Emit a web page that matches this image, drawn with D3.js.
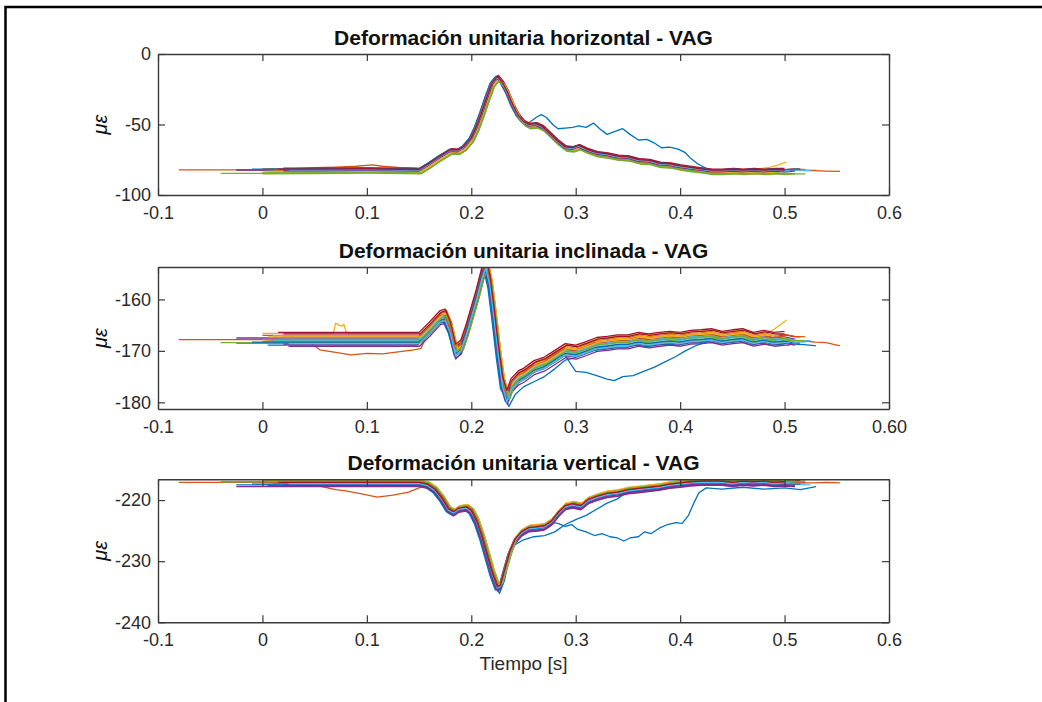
<!DOCTYPE html>
<html><head><meta charset="utf-8">
<script src="https://cdn.jsdelivr.net/npm/d3@7"></script>
<style>
body{margin:0;background:#fff}
svg{display:block}
text{font-family:"Liberation Sans",Arial,Helvetica,sans-serif}
</style>
</head><body>
<svg id="chart" width="1042" height="702"></svg>
<script>
// ---------------- DATA ----------------
const titles = ["Deformación unitaria horizontal - VAG","Deformación unitaria inclinada - VAG","Deformación unitaria vertical - VAG"];
const xLabel = "Tiempo [s]";
const yLabel = "με";
const xTicks = [-0.1,0,0.1,0.2,0.3,0.4,0.5,0.6];
const xTickLabels1 = ["-0.1","0","0.1","0.2","0.3","0.4","0.5","0.6"];
const xTickLabels2 = ["-0.1","0","0.1","0.2","0.3","0.4","0.5","0.60"];
const xTickLabels3 = ["-0.1","0","0.1","0.2","0.3","0.4","0.5","0.6"];
const xDomain = [-0.1,0.6];
const yDomain1 = [-100,0];
const yDomain2 = [-181.3,-153.7];
const yDomain3 = [-240,-216.6];
const yTicks1 = [-100,-50,0];
const yTicks2 = [-180,-170,-160];
const yTicks3 = [-240,-230,-220];
const seriesColors = ["#0072BD","#D95319","#EDB120","#7E2F8E","#77AC30","#4DBEEE","#A2142F"];

// common waveform of each panel [t, value]
const base1 = [[-0.08,-82.5],[0.0,-82.5],[0.05,-82.3],[0.1,-82],[0.15,-82.5],[0.16,-78],[0.17,-73],[0.18,-68.5],[0.187,-68.8],[0.193,-66],[0.2,-60],[0.205,-52],[0.21,-42],[0.215,-31],[0.22,-21],[0.225,-16.5],[0.23,-21],[0.235,-28],[0.24,-37],[0.245,-44],[0.25,-48.5],[0.255,-50.5],[0.262,-50],[0.268,-52],[0.275,-57],[0.282,-62],[0.29,-66.5],[0.297,-67],[0.303,-65.5],[0.31,-68],[0.32,-70.5],[0.33,-71.5],[0.34,-73],[0.35,-73.5],[0.36,-75.5],[0.37,-76],[0.38,-78],[0.39,-78.5],[0.4,-80],[0.41,-81],[0.42,-82],[0.43,-83],[0.44,-83],[0.45,-82.5],[0.46,-83],[0.47,-82.5],[0.48,-83],[0.49,-82.5],[0.5,-83],[0.51,-82.5],[0.52,-83],[0.53,-83],[0.54,-83.3],[0.553,-83.5]];
const base2 = [[-0.08,-168],[0,-168],[0.05,-168],[0.1,-168],[0.15,-168],[0.16,-166],[0.17,-163.8],[0.175,-163.5],[0.18,-166],[0.185,-170.3],[0.19,-169.5],[0.195,-166.5],[0.2,-163],[0.205,-159.5],[0.21,-155.5],[0.214,-153.3],[0.218,-157],[0.222,-163.5],[0.226,-170.5],[0.23,-176.5],[0.234,-179.3],[0.238,-177],[0.245,-175.5],[0.25,-175],[0.26,-173.5],[0.27,-172.8],[0.28,-171.5],[0.29,-170.2],[0.3,-170.5],[0.31,-169.8],[0.32,-169],[0.33,-168.8],[0.34,-168.5],[0.35,-168.5],[0.36,-168],[0.37,-168.3],[0.38,-168],[0.39,-167.8],[0.4,-168],[0.41,-167.6],[0.42,-167.5],[0.43,-167.3],[0.44,-167.8],[0.45,-167.5],[0.46,-167.3],[0.47,-168],[0.48,-167.6],[0.49,-168],[0.5,-167.8],[0.51,-168.2],[0.52,-168.3],[0.53,-168.5],[0.54,-168.6],[0.553,-169.2]];
const base3 = [[-0.08,-217.2],[0,-217.2],[0.05,-217.2],[0.1,-217.2],[0.15,-217.2],[0.158,-217.5],[0.165,-218.3],[0.172,-219.8],[0.178,-221.5],[0.183,-222],[0.188,-221.4],[0.195,-221.2],[0.2,-221.8],[0.205,-223.5],[0.21,-226],[0.215,-229],[0.22,-232],[0.225,-234.3],[0.228,-234],[0.232,-231.5],[0.237,-228.5],[0.242,-226.5],[0.248,-225.3],[0.255,-224.6],[0.262,-224.5],[0.27,-224.3],[0.277,-223.5],[0.284,-222],[0.29,-221],[0.297,-220.7],[0.305,-221],[0.312,-220],[0.32,-219.5],[0.33,-219],[0.34,-218.8],[0.35,-218.4],[0.36,-218.2],[0.37,-218],[0.38,-217.8],[0.39,-217.5],[0.4,-217.3],[0.41,-217.1],[0.42,-217],[0.43,-217],[0.44,-217],[0.45,-217.2],[0.46,-217],[0.47,-217.1],[0.48,-217],[0.49,-217.2],[0.5,-217.1],[0.51,-217.2],[0.52,-217.3],[0.53,-217.3],[0.54,-217.2],[0.553,-217.3]];

// each recorded pass: start/end time, time shift and level shift per panel
const traceStart = [-0.025,-0.08,0.0,-0.025,-0.04,0.01,0.02, 0.005,0.0,0.01,0.025,0.0,0.015,0.02, -0.01,0.01,0.005,0.02,0.0,0.025,0.015];
const traceEnd   = [0.53,0.553,0.502,0.51,0.505,0.52,0.515, 0.5,0.52,0.495,0.505,0.51,0.525,0.5, 0.515,0.5,0.49,0.51,0.52,0.505,0.5];
const traceDt    = [-0.0015,-0.0005,0.0015,0.0,0.002,-0.001,0.0005, -0.002,0.0,0.001,0.0005,0.0025,-0.0005,0.001, -0.001,-0.001,0.002,-0.0005,0.0015,0.0,0.0];
const traceDy1   = [0.5,0.3,-1.2,0.2,-2.2,0.6,0.9, 0.2,1.0,-1.6,-0.4,-1.8,0.4,1.3, 0.8,0.0,-0.9,-0.6,-2.5,0.1,0.6];
const traceDy2   = [-0.5,0.2,1.4,0.5,-0.4,0.0,0.9, -0.9,1.0,0.9,-1.1,-0.2,0.3,1.3, -0.3,0.6,0.7,-0.7,0.2,-0.6,1.6];
const traceDy3   = [-0.3,0.1,0.3,-0.6,0.2,0.0,0.4, -0.4,0.2,0.5,-0.5,0.3,-0.2,0.3, -0.2,0.0,0.4,-0.4,0.3,-0.1,0.1];

// passes that depart from the common waveform (trace index, points)
const outliers1 = [
  {trace:0, pts:[[0.255,-49],[0.262,-45],[0.267,-43],[0.272,-45],[0.278,-50],[0.283,-53],[0.29,-52.5],[0.297,-52],[0.303,-51],[0.31,-52],[0.317,-49],[0.323,-53],[0.33,-57],[0.337,-55],[0.345,-53],[0.352,-57],[0.36,-61],[0.368,-60.5],[0.375,-63],[0.382,-66.5],[0.39,-66],[0.398,-67.5],[0.405,-70],[0.41,-74],[0.417,-78],[0.425,-81]]},
  {trace:1, pts:[[0.02,-81.6],[0.05,-80.6],[0.07,-80.2],[0.09,-79.6],[0.105,-78.6],[0.115,-79.6],[0.13,-80.4],[0.148,-81]]},
  {trace:2, pts:[[0.47,-82.0],[0.485,-80.5],[0.495,-78.5],[0.502,-76.5]]}
];
const outliers2 = [
  {trace:0, pts:[[0.285,-171],[0.29,-170.8],[0.295,-172.5],[0.3,-174],[0.31,-174.2],[0.32,-174.8],[0.33,-175.5],[0.337,-175.8],[0.345,-175],[0.355,-174.8],[0.365,-174],[0.375,-173.2],[0.385,-172.2],[0.395,-171.2],[0.405,-170],[0.415,-169],[0.425,-168.3]]},
  {trace:7, pts:[[0.178,-166.5],[0.185,-171.6],[0.19,-170.5]]},
  {trace:7, pts:[[0.23,-178],[0.236,-180.8],[0.242,-178.5],[0.25,-177],[0.26,-176],[0.27,-175],[0.28,-173.5],[0.29,-171.8]]},
  {trace:1, pts:[[0.045,-168.3],[0.055,-169.8],[0.07,-170.3],[0.085,-170.8],[0.1,-170.5],[0.115,-170.6],[0.13,-170.2],[0.145,-169.8],[0.152,-169.5]]},
  {trace:2, pts:[[0.068,-166.6],[0.07,-164.6],[0.073,-165],[0.076,-165.2],[0.078,-164.8],[0.08,-166.2],[0.082,-166.6]]},
  {trace:2, pts:[[0.48,-167.0],[0.49,-165.8],[0.502,-164]]}
];
const outliers3 = [
  {trace:1, pts:[[0.045,-217.3],[0.06,-217.9],[0.07,-218.3],[0.08,-218.5],[0.095,-219.0],[0.11,-219.5],[0.125,-219.2],[0.14,-218.7],[0.15,-218]]},
  {trace:0, pts:[[0.265,-224.3],[0.275,-223.6],[0.283,-223.8],[0.29,-224.3],[0.296,-224],[0.302,-224.8],[0.31,-225.2],[0.318,-225.8],[0.325,-225.5],[0.333,-226],[0.34,-226.2],[0.346,-226.7],[0.352,-226.2],[0.36,-226],[0.366,-225.2],[0.372,-225.5],[0.38,-224.6],[0.388,-224],[0.396,-223.7],[0.402,-223.8],[0.408,-222.5],[0.413,-220.5],[0.418,-218.8],[0.425,-218],[0.44,-218.2],[0.46,-217.9],[0.48,-218.2],[0.5,-218],[0.515,-218.3],[0.53,-217.8]]},
  {trace:7, pts:[[0.24,-227.5],[0.25,-226.5],[0.26,-226],[0.27,-225.8],[0.28,-225.2],[0.29,-224],[0.3,-223.2],[0.31,-222.5],[0.32,-221.5],[0.33,-220.5],[0.34,-219.8]]},
  {trace:14, pts:[[0.222,-233.5],[0.227,-235.3],[0.232,-233]]}
];

// ---------------- DRAW ----------------
const svg = d3.select("#chart");
const L = 158, R = 889;
const panels = [
  {top:54,  bottom:195,   yDomain:yDomain1, yTicks:yTicks1, xLabels:xTickLabels1, base:base1, dy:traceDy1, outliers:outliers1, title:titles[0]},
  {top:267, bottom:409,   yDomain:yDomain2, yTicks:yTicks2, xLabels:xTickLabels2, base:base2, dy:traceDy2, outliers:outliers2, title:titles[1]},
  {top:479.3, bottom:622.3, yDomain:yDomain3, yTicks:yTicks3, xLabels:xTickLabels3, base:base3, dy:traceDy3, outliers:outliers3, title:titles[2]}
];

// outer frame
svg.append("path").attr("d","M5.5,702V7H1042").attr("fill","none").attr("stroke","#000").attr("stroke-width",2.5);

const x = d3.scaleLinear().domain(xDomain).range([L,R]);
const axisColor = "#3a3a3a";
const textColor = "#2a2a2a";

function buildTrace(p, i) {
  const start = traceStart[i], end = traceEnd[i], dt = traceDt[i], dy = p.dy[i];
  let pts = p.base.map(d => [d[0] + dt, d[1] + dy]).filter(d => d[0] >= start && d[0] <= end);
  const first = pts.length ? pts[0][1] : p.base[0][1] + dy;
  const last = pts.length ? pts[pts.length-1][1] : first;
  pts.unshift([start, first]);
  pts.push([end, last]);
  p.outliers.filter(o => o.trace === i).forEach(o => {
    const t0 = o.pts[0][0], t1 = o.pts[o.pts.length-1][0];
    pts = pts.filter(d => d[0] < t0 || d[0] > t1).concat(o.pts.filter(d => d[0] >= start && d[0] <= end));
  });
  pts.sort((a,b) => a[0]-b[0]);
  return pts;
}

panels.forEach((p, k) => {
  const y = d3.scaleLinear().domain(p.yDomain).range([p.bottom, p.top]);
  const g = svg.append("g");
  const clipId = "clip" + k;
  svg.append("clipPath").attr("id", clipId).append("rect")
    .attr("x", L).attr("y", p.top).attr("width", R-L).attr("height", p.bottom-p.top);

  const line = d3.line().x(d => x(d[0])).y(d => y(d[1]));
  const lines = g.append("g").attr("clip-path", `url(#${clipId})`);
  traceStart.forEach((_, i) => {
    lines.append("path").datum(buildTrace(p, i))
      .attr("d", line).attr("fill","none")
      .attr("stroke", seriesColors[i % seriesColors.length])
      .attr("stroke-width", 1.3).attr("stroke-linejoin","round");
  });

  // axes (MATLAB box with inward ticks)
  const xb = d3.axisBottom(x).tickValues(xTicks).tickSize(-7).tickSizeOuter(0).tickPadding(11)
    .tickFormat((d,j) => p.xLabels[j]);
  const xt = d3.axisTop(x).tickValues(xTicks).tickSize(-7).tickSizeOuter(0).tickFormat("");
  const yl = d3.axisLeft(y).tickValues(p.yTicks).tickSize(-7).tickSizeOuter(0).tickPadding(7)
    .tickFormat(d => String(d));
  const yr = d3.axisRight(y).tickValues(p.yTicks).tickSize(-7).tickSizeOuter(0).tickFormat("");

  const axes = [
    g.append("g").attr("transform", `translate(0,${p.bottom})`).call(xb),
    g.append("g").attr("transform", `translate(0,${p.top})`).call(xt),
    g.append("g").attr("transform", `translate(${L},0)`).call(yl),
    g.append("g").attr("transform", `translate(${R},0)`).call(yr)
  ];
  axes.forEach(a => {
    a.selectAll("path.domain").attr("stroke", axisColor).attr("stroke-width", 1.4);
    a.selectAll(".tick line").attr("stroke", axisColor).attr("stroke-width", 1.2);
    a.selectAll("text").attr("fill", textColor).style("font-size","18px")
      .style("font-family","'Liberation Sans',Arial,sans-serif");
  });

  // title
  svg.append("text").attr("x", (L+R)/2).attr("y", p.top - 9)
    .attr("text-anchor","middle").attr("fill","#111")
    .style("font-size","21px").style("font-weight","bold")
    .text(p.title);

  // y label
  svg.append("text")
    .attr("transform", `translate(107,${(p.top+p.bottom)/2}) rotate(-90)`)
    .attr("text-anchor","middle").attr("fill","#111")
    .style("font-size","20px").style("font-style","italic")
    .text(yLabel);
});

svg.append("text").attr("x", (L+R)/2).attr("y", 670)
  .attr("text-anchor","middle").attr("fill", textColor)
  .style("font-size","19px").text(xLabel);
</script>
</body></html>
